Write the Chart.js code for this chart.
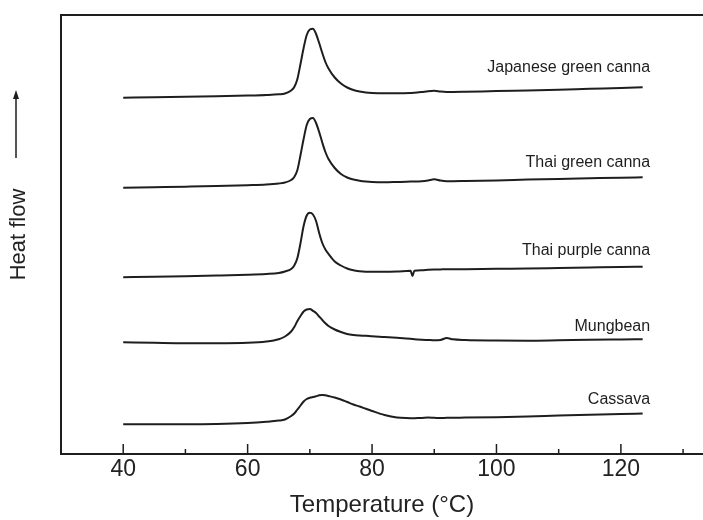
<!DOCTYPE html>
<html><head><meta charset="utf-8">
<script src="https://cdn.jsdelivr.net/npm/chart.js@4.4.0/dist/chart.umd.min.js"></script>
<style>html,body{margin:0;padding:0;background:#fff;} canvas{display:block;}</style>
</head><body>
<canvas id="c" width="703" height="520"></canvas>
<script>
// Temperature grid (°C) shared by all thermograms
const temperatures = [40,45,50,55,60,63,65,66,67,67.5,68,68.5,69,69.5,70,70.5,71,71.5,72,72.5,73,74,75,76,77,78,79,80,82,84,86.2,86.5,86.8,88,89,90,91,92,93,95,100,105,110,115,120,123.5];

// Heat flow (arbitrary units, curves stacked)
const japaneseGreenCanna = [359.3,359.8,360.2,360.7,361.4,362,362.7,363.5,366.5,370,378,393,409,422,427.5,428.2,423,414,404,395,388.5,379.5,373.5,369.5,367,365.5,364.5,364,363.7,363.7,364,364.1,364.2,365,365.8,366.2,365.4,365,365,365.2,366,366.6,367.3,368.2,369,369.7];
const thaiGreenCanna = [269.3,269.8,270.3,270.9,271.8,272.5,273.5,274.5,277,280,287,302,318,332,338,339,334,325,314.5,305,298,289,283,279.5,277.5,276.3,275.5,275,274.7,275,275.4,275.5,275.5,275.8,276.6,277.7,276.4,275.8,275.8,276,276.6,277.4,278.1,278.7,279.3,279.7];
const thaiPurpleCanna = [179.7,180.3,180.8,181.4,182.2,183,184,185.5,188,191.5,199,214,231,241.5,244.3,242.5,236,224,214,207.5,203,195.5,191.5,188.5,186.7,185.8,185.3,185.2,185.2,185.5,186.2,181,186.3,186.8,187.2,187.5,187.6,187.7,187.7,187.8,188.2,188.5,189,189.5,190,190.3];
const mungbean = [114.7,114.2,113.8,113.8,114.2,115.5,117.8,120.5,125.5,130,136,141,145.5,147.5,148,146.2,144,140.5,137,133.7,131,127.5,125,123,122,121.5,121.2,120.7,120,119.2,118.2,118,117.8,117.3,117,116.7,117,119,117.7,117,116.5,116.3,116.7,117.2,117.5,117.7];
const cassava = [32.7,32.7,32.7,33,34,35.2,36.4,37.5,41,43.5,47.5,51.5,55.5,58,59.2,60,60.7,61.7,62,61.7,61,59.5,57.5,55,52.5,50.5,48.2,46,42,39.5,38.8,38.7,38.8,39,39.4,39.2,39,39.2,39.3,39.4,39.8,40.5,41.4,42.2,43,43.5];

const seriesNames = ['Japanese green canna','Thai green canna','Thai purple canna','Mungbean','Cassava'];
const seriesValues = [japaneseGreenCanna, thaiGreenCanna, thaiPurpleCanna, mungbean, cassava];
const labelHeights = [389, 294, 206, 130, 57];
const labelRightTemp = 124.7;

const majorTicks = [40,60,80,100,120];
const minorTicks = [50,70,90,110,130];
const xMin = 30, xMax = 133.2;
const yMin = 3, yMax = 442;

const ink = '#1e1e1e';
const fontFamily = '"Liberation Sans", Arial, Helvetica, sans-serif';

const decor = {
  id: 'decor',
  afterDraw(chart) {
    const {ctx, chartArea: a, scales: {x, y}} = chart;
    ctx.save();
    ctx.strokeStyle = ink;
    ctx.fillStyle = ink;
    // top frame line
    ctx.lineWidth = 2;
    ctx.beginPath();
    ctx.moveTo(a.left - 1, a.top);
    ctx.lineTo(a.right, a.top);
    ctx.stroke();
    // inward tick marks
    ctx.lineWidth = 1.5;
    majorTicks.forEach(v => {
      const px = x.getPixelForValue(v);
      ctx.beginPath(); ctx.moveTo(px, a.bottom); ctx.lineTo(px, a.bottom - 10); ctx.stroke();
    });
    minorTicks.forEach(v => {
      const px = x.getPixelForValue(v);
      ctx.beginPath(); ctx.moveTo(px, a.bottom); ctx.lineTo(px, a.bottom - 5); ctx.stroke();
    });
    // series labels
    ctx.font = '16px ' + fontFamily;
    ctx.textAlign = 'right';
    ctx.textBaseline = 'middle';
    seriesNames.forEach((n, i) => {
      ctx.fillText(n, x.getPixelForValue(labelRightTemp), y.getPixelForValue(labelHeights[i]));
    });
    // heat flow arrow
    const ax = 16, yb = a.top + 143, yt = a.top + 75;
    ctx.lineWidth = 1.5;
    ctx.beginPath(); ctx.moveTo(ax, yb); ctx.lineTo(ax, yt + 6); ctx.stroke();
    ctx.beginPath(); ctx.moveTo(ax, yt); ctx.lineTo(ax - 3, yt + 9); ctx.lineTo(ax + 3, yt + 9); ctx.closePath(); ctx.fill();
    ctx.restore();
  }
};

new Chart(document.getElementById('c'), {
  type: 'line',
  data: {
    datasets: seriesValues.map((vals, i) => ({
      label: seriesNames[i],
      data: temperatures.map((t, k) => ({x: t, y: vals[k]})),
      borderColor: ink,
      borderWidth: 2,
      pointRadius: 0,
      fill: false,
      cubicInterpolationMode: 'monotone'
    }))
  },
  options: {
    responsive: false,
    animation: false,
    devicePixelRatio: 1,
    layout: {padding: {top: 15, left: 0, right: 0, bottom: 0}},
    plugins: {legend: {display: false}, tooltip: {enabled: false}},
    scales: {
      x: {
        type: 'linear', min: xMin, max: xMax,
        grid: {display: false, drawTicks: false},
        border: {display: true, color: ink, width: 2},
        afterBuildTicks: s => { s.ticks = majorTicks.map(v => ({value: v})); },
        afterFit: s => { s.height = 66; },
        ticks: {color: '#222', font: {family: fontFamily, size: 23}, padding: 2, maxRotation: 0},
        title: {display: true, text: 'Temperature (°C)', color: '#222', font: {family: fontFamily, size: 24}, padding: {top: 0, bottom: 0}}
      },
      y: {
        min: yMin, max: yMax,
        grid: {display: false, drawTicks: false},
        border: {display: true, color: ink, width: 2},
        ticks: {display: false},
        afterFit: s => { s.width = 61; },
        title: {display: true, text: 'Heat flow', color: '#222', font: {family: fontFamily, size: 22}, padding: {top: 6, bottom: 0}}
      }
    }
  },
  plugins: [decor]
});
</script>
</body></html>
